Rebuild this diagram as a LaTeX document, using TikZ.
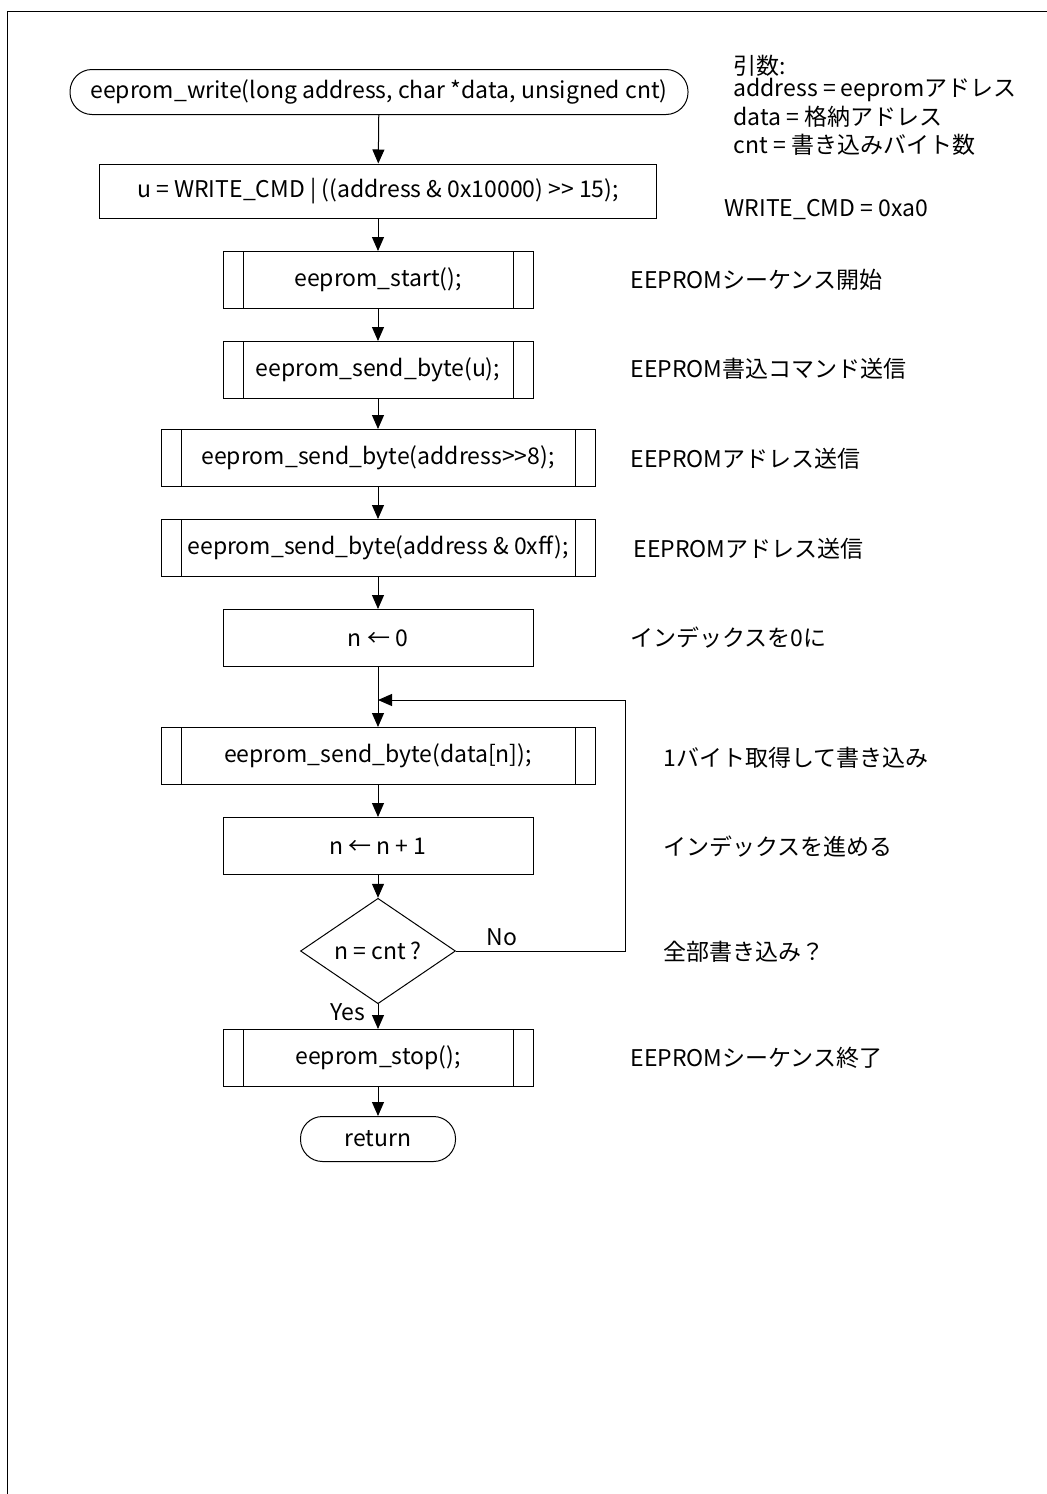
\documentclass[tikz,border=0pt]{standalone}
\usepackage{fontspec}
\setmainfont{Noto Sans CJK JP}
\usetikzlibrary{arrows.meta,shapes.geometric}

\begin{document}
\begin{tikzpicture}[x=.5pt, y=-.5pt,
    line width=.5pt,
    every node/.style={font=\fontsize{11.5pt}{14pt}\selectfont},
    proc/.style={draw, rectangle, inner sep=0pt, minimum width=#1, minimum height=27pt},
    sub/.style={proc=#1, minimum height=28.5pt,
        path picture={
            \draw ([xshift=10pt]path picture bounding box.north west) -- ([xshift=10pt]path picture bounding box.south west);
            \draw ([xshift=-10pt]path picture bounding box.north east) -- ([xshift=-10pt]path picture bounding box.south east);
        }},
    term/.style={draw, rectangle, rounded corners=11pt, inner sep=0pt, minimum width=#1, minimum height=22.5pt},
    cond/.style={draw, diamond, inner sep=0pt, minimum width=77.5pt, minimum height=44pt},
    note/.style={anchor=west, inner sep=0pt},
    flow/.style={-{Triangle[width=6pt,length=7pt]}}]

    \useasboundingbox (0,0) rectangle (1047,1494);
    \draw (1047,11) -- (7,11) -- (7,1494);

    \node[term=309pt] (start) at (379,92) {eeprom\_write(long address, char *data, unsigned cnt)};
    \node[proc=278.5pt] (u) at (378,191) {u = WRITE\_CMD | ((address \& 0x10000) {>}{>} 15);};
    \node[sub=155pt] (estart) at (378,280) {eeprom\_start();};
    \node[sub=155pt] (sendu) at (378,370) {eeprom\_send\_byte(u);};
    \node[sub=217pt] (sendhi) at (378,458) {eeprom\_send\_byte(address{>}{>}8);};
    \node[sub=217pt] (sendlo) at (378,548) {eeprom\_send\_byte(address \& 0xff);};
    \node[proc=155pt, minimum height=28.5pt] (nzero) at (378,638) {n ← 0};
    \node[sub=217pt] (senddata) at (378,756) {eeprom\_send\_byte(data[n]);};
    \node[proc=155pt, minimum height=28.5pt] (ninc) at (378,846) {n ← n + 1};
    \node[cond] (cmp) at (378,951) {n = cnt ?};
    \node[sub=155pt] (estop) at (378,1058) {eeprom\_stop();};
    \node[term=77.5pt] (ret) at (378,1139) {return};

    \coordinate (loopb) at (625,951);
    \coordinate (loopt) at (625,700);
    \coordinate (join) at (378,700);

    \draw[flow] (start) -- (u);
    \draw[flow] (u) -- (estart);
    \draw[flow] (estart) -- (sendu);
    \draw[flow] (sendu) -- (sendhi);
    \draw[flow] (sendhi) -- (sendlo);
    \draw[flow] (sendlo) -- (nzero);
    \draw[flow] (nzero) -- (senddata);
    \draw[flow] (senddata) -- (ninc);
    \draw[flow] (ninc) -- (cmp);
    \draw[flow] (cmp) -- (estop);
    \draw[flow] (estop) -- (ret);
    \draw[flow] (cmp.east) -- (loopb) -- (loopt) -- (join);

    \node (no) at (502,937) {No};
    \node (yes) at (348,1012) {Yes};

    % comments on the right
    \node[note] (args) at (733,66) {引数:};
    \node[note] (argaddr) at (733,90) {address = eepromアドレス};
    \node[note] (argdata) at (733,117) {data = 格納アドレス};
    \node[note] (argcnt) at (733,145) {cnt = 書き込みバイト数};
    \node[note] (wcmd) at (724,210) {WRITE\_CMD = 0xa0};

    \node[note] (c1) at (630,280) {EEPROMシーケンス開始};
    \node[note] (c2) at (630,369) {EEPROM書込コマンド送信};
    \node[note] (c3) at (630,459) {EEPROMアドレス送信};
    \node[note] (c4) at (633,549) {EEPROMアドレス送信};
    \node[note] (c5) at (630,638) {インデックスを0に};
    \node[note] (c6) at (663,758) {1バイト取得して書き込み};
    \node[note] (c7) at (663,847) {インデックスを進める};
    \node[note] (c8) at (663,952) {全部書き込み？};
    \node[note] (c9) at (630,1058) {EEPROMシーケンス終了};
\end{tikzpicture}
\end{document}
